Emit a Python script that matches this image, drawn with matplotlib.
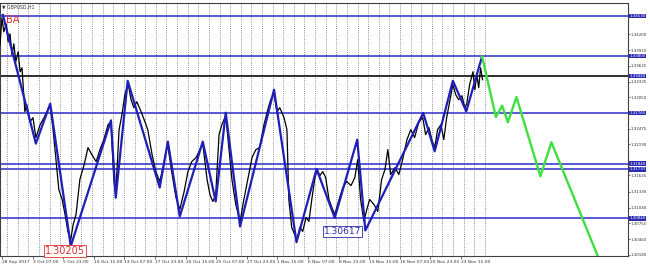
import matplotlib
matplotlib.use("Agg")
import matplotlib.pyplot as plt
import matplotlib.transforms as mtransforms

# hourly bar index (x) and price (y)
price_x = [0, 4, 8, 13, 17, 21, 25, 29, 33, 38, 42, 46, 52, 56, 63, 69, 75, 84, 92, 98,
           105, 111, 117, 123, 130, 136, 142, 148, 153, 159, 167, 176, 184, 192, 201, 209, 217, 226, 232, 238,
           242, 249, 255, 261, 268, 274, 280, 286, 295, 303, 309, 318, 326, 334, 341, 347, 351, 359, 368, 376,
           385, 393, 401, 410, 418, 424, 433, 439, 445, 451, 458, 464, 472, 479, 485, 493, 502, 510, 518, 527,
           535, 543, 552, 560, 566, 573, 579, 585, 594, 600, 604, 610, 617, 621, 627, 633, 640, 646, 652, 658,
           663, 669, 675, 681, 688, 694, 700, 709, 717, 725, 734, 742, 748, 754, 761, 767, 773, 782, 790, 798,
           805, 811, 817, 826, 834, 842, 851, 859, 867, 876, 884, 890, 897, 903, 909, 915, 922, 928, 934, 941,
           947, 953, 959, 966, 972, 976, 982, 989, 993, 997, 1001, 1005, 1009]
price_close = [1.34005, 1.34496, 1.34242, 1.34387, 1.34060, 1.34205, 1.33823, 1.34024, 1.33696, 1.33878,
               1.33514, 1.33587, 1.32787, 1.32914, 1.32605, 1.32677, 1.32314, 1.32550, 1.32677, 1.32787,
               1.32896, 1.32459, 1.31914, 1.31368, 1.31186, 1.30913, 1.30604, 1.30458, 1.30731, 1.30913,
               1.31550, 1.31823, 1.32132, 1.32004, 1.31877, 1.32095, 1.32277, 1.32550, 1.32605, 1.31550,
               1.31277, 1.32459, 1.32732, 1.33096, 1.33296, 1.33005, 1.32859, 1.32969, 1.32787, 1.32605,
               1.32459, 1.32004, 1.31695, 1.31513, 1.31768, 1.32059, 1.32168, 1.31695, 1.31222, 1.31004,
               1.31331, 1.31695, 1.31877, 1.31950, 1.32095, 1.32205, 1.31550, 1.31277, 1.31150, 1.31259,
               1.32368, 1.32550, 1.32714, 1.32095, 1.31550, 1.31095, 1.30786, 1.31186, 1.31550, 1.31950,
               1.32095, 1.32132, 1.32550, 1.32823, 1.33005, 1.33114, 1.32787, 1.32859, 1.32677, 1.32459,
               1.31186, 1.30677, 1.30531, 1.30458, 1.30677, 1.30604, 1.30858, 1.30786, 1.31186, 1.31550,
               1.31732, 1.31622, 1.31695, 1.31586, 1.31186, 1.31040, 1.30913, 1.31186, 1.31404, 1.31513,
               1.31441, 1.31586, 1.31914, 1.31186, 1.30786, 1.31004, 1.31186, 1.31095, 1.30968, 1.31550,
               1.31732, 1.32095, 1.31641, 1.31768, 1.31641, 1.31914, 1.32277, 1.32459, 1.32314, 1.32605,
               1.32677, 1.32368, 1.32496, 1.32277, 1.32132, 1.32459, 1.32550, 1.32277, 1.32677, 1.33005,
               1.33278, 1.33096, 1.33005, 1.33078, 1.32859, 1.32932, 1.33278, 1.33514, 1.33187, 1.33460,
               1.33223, 1.33587, 1.33369]

# zigzag turning points
zz_x = [6, 75, 105, 148, 232, 242, 267, 334, 351, 376, 424, 451, 472, 502, 573, 620, 662, 700, 747, 764,
        885, 909, 947, 975, 1008]
zz_y = [1.34551, 1.32205, 1.32932, 1.30336, 1.32628, 1.31217, 1.33350, 1.31404, 1.32241, 1.30877,
        1.32241, 1.31150, 1.32768, 1.30695, 1.33187, 1.30409, 1.31741, 1.30853, 1.32277, 1.30622,
        1.32763, 1.32064, 1.33350, 1.32792, 1.33793]

# forecast path (green)
fc_x = [1008, 1037, 1050, 1062, 1080, 1130, 1153, 1250]
fc_y = [1.33793, 1.32690, 1.32896, 1.32592, 1.33054, 1.31610, 1.32228, 1.30155]

# horizontal levels
blue_levels = [1.34530, 1.33800, 1.32765, 1.31840, 1.31737, 1.30840]
black_level = 1.33440

# price scale
y_ticks = [1.34200, 1.33910, 1.33625, 1.33335, 1.33050, 1.32475, 1.32190,
           1.31625, 1.31330, 1.31040, 1.30755, 1.30460, 1.30180]

# time scale
x_tick_pos = [4 + 64 * i for i in range(16)]
x_tick_labels = ["28 Sep 2017", "3 Oct 07:00", "5 Oct 23:00", "10 Oct 15:00", "13 Oct 07:00",
                 "17 Oct 23:00", "20 Oct 15:00", "25 Oct 07:00", "27 Oct 23:00", "1 Nov 15:00",
                 "6 Nov 07:00", "8 Nov 23:00", "13 Nov 15:00", "16 Nov 07:00", "20 Nov 23:00",
                 "23 Nov 15:00"]

fig = plt.figure(figsize=(6.5, 2.67), dpi=100)
ax = fig.add_axes([0.0, 0.041, 0.966, 0.948])
ax.set_xlim(0, 1313)
ax.set_ylim(1.30155, 1.34769)

# dotted vertical grid, only over the history part
gx = 15.0
while gx <= 1016:
    ax.axvline(gx, color="#707070", lw=0.6, ls=(0, (1, 1.6)), zorder=1)
    gx += 22.2

for lv in blue_levels:
    ax.axhline(lv, color="#3c3cd0", lw=1.2, zorder=2)
ax.axhline(black_level, color="#303030", lw=1.4, zorder=2)

ax.plot(price_x, price_close, color="black", lw=0.9, zorder=3)
ax.plot(zz_x, zz_y, color="#1e1eb8", lw=1.6, zorder=4)
ax.plot(fc_x, fc_y, color="#3ee03e", lw=1.7, zorder=4)

# annotations
ax.text(4, 1.34700, "\u25bc GBPUSD,H1", fontsize=3.3, color="#333333", va="center", ha="left")
ax.text(12, 1.34460, "BA", fontsize=7, color="#e03030", va="center", ha="left")
ax.text(136, 1.30245, "1.30205", fontsize=7, color="#e03030", va="center", ha="center",
        bbox=dict(boxstyle="square,pad=0.1", fc="white", ec="#e03030", lw=0.6), zorder=5)
ax.text(717, 1.30604, "1.30617", fontsize=6.5, color="#2a2ab0", va="center", ha="center",
        bbox=dict(boxstyle="square,pad=0.1", fc="white", ec="#2a2ab0", lw=0.6), zorder=5)

# axes
ax.yaxis.tick_right()
ax.set_yticks(y_ticks)
ax.set_yticklabels(["%.5f" % v for v in y_ticks])
ax.tick_params(axis="y", labelsize=2.9, length=1.5, width=0.5, pad=0.5, colors="#333333")
ax.set_xticks(x_tick_pos)
ax.set_xticklabels(x_tick_labels, ha="left")
ax.tick_params(axis="x", labelsize=3.2, length=2, width=0.5, pad=1, colors="#333333")
for sp in ax.spines.values():
    sp.set_linewidth(0.8)
    sp.set_color("#404040")

# highlighted level labels on the price scale
trans = mtransforms.blended_transform_factory(ax.transAxes, ax.transData)
for lv in blue_levels + [black_level]:
    ax.text(1.002, lv, "%.5f" % lv, transform=trans, fontsize=2.9, color="white",
            va="center", ha="left", clip_on=False,
            bbox=dict(boxstyle="square,pad=0.06", fc="#2a2ab4", ec="none"), zorder=6)

fig.savefig("out.png", dpi=100)
